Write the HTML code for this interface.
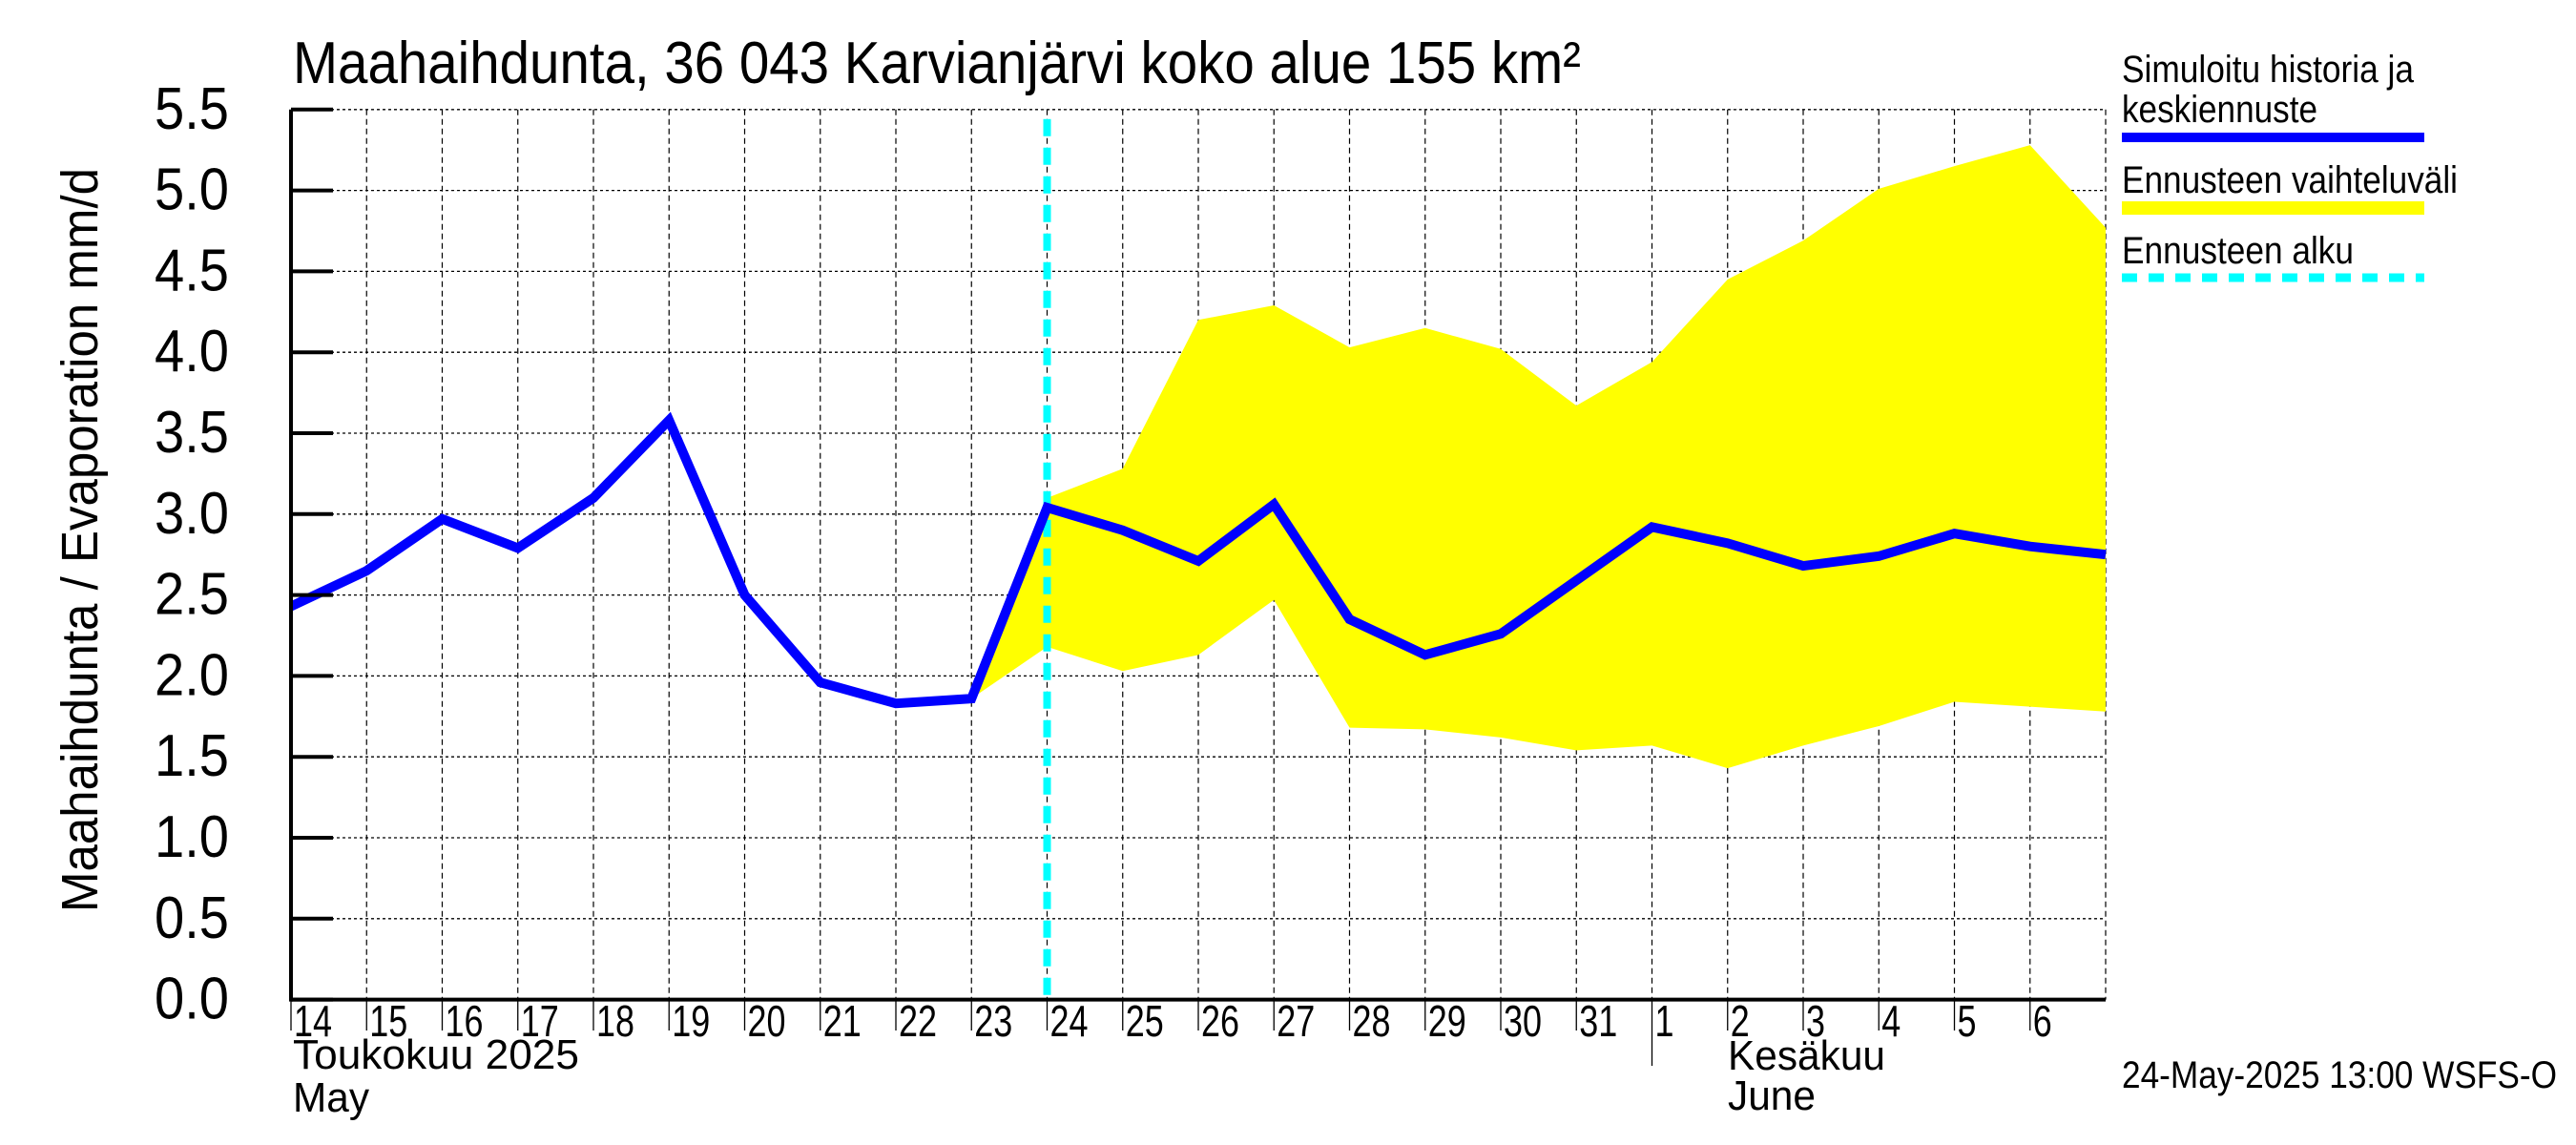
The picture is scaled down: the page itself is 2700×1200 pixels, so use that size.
<!DOCTYPE html>
<html><head><meta charset="utf-8"><style>
html,body{margin:0;padding:0;background:#fff;}
svg{display:block;font-family:"Liberation Sans",sans-serif;}
</style></head><body>
<svg id="chart" width="2700" height="1200" viewBox="0 0 2700 1200" xmlns="http://www.w3.org/2000/svg">
<text x="307" y="87" font-size="62" textLength="1350" lengthAdjust="spacingAndGlyphs">Maahaihdunta, 36 043 Karvianjärvi koko alue 155 km²</text>
<text transform="translate(102,566) rotate(-90)" text-anchor="middle" font-size="54" textLength="780" lengthAdjust="spacingAndGlyphs">Maahaihdunta / Evaporation   mm/d</text>
<g id="grid"></g>
<g id="band"></g>
<g id="series"></g>
<g id="axes"></g>
<text x="307" y="1120" font-size="44" textLength="300" lengthAdjust="spacingAndGlyphs">Toukokuu  2025</text>
<text x="307" y="1165" font-size="44" textLength="80" lengthAdjust="spacingAndGlyphs">May</text>
<text x="1811" y="1121" font-size="44" textLength="165" lengthAdjust="spacingAndGlyphs">Kesäkuu</text>
<text x="1811" y="1163" font-size="44" textLength="92" lengthAdjust="spacingAndGlyphs">June</text>
<g font-size="40">
<text x="2224" y="86" textLength="306" lengthAdjust="spacingAndGlyphs">Simuloitu historia ja</text>
<text x="2224" y="128" textLength="205" lengthAdjust="spacingAndGlyphs">keskiennuste</text>
<rect x="2224" y="139" width="317" height="10" fill="#0000ff"/>
<text x="2224" y="202" textLength="352" lengthAdjust="spacingAndGlyphs">Ennusteen vaihteluväli</text>
<rect x="2224" y="211" width="317" height="14" fill="#ffff00"/>
<text x="2224" y="276" textLength="243" lengthAdjust="spacingAndGlyphs">Ennusteen alku</text>
<line x1="2224" y1="291" x2="2541" y2="291" stroke="#00ffff" stroke-width="9" stroke-dasharray="16,12"/>
</g>
<text x="2224" y="1140" font-size="40" textLength="456" lengthAdjust="spacingAndGlyphs">24-May-2025 13:00 WSFS-O</text>
</svg>
<script>
const dayLabels = ["14","15","16","17","18","19","20","21","22","23","24","25","26","27","28","29","30","31","1","2","3","4","5","6"];
const yTicks = [0,0.5,1,1.5,2,2.5,3,3.5,4,4.5,5,5.5];
const yTickLabels = ["0.0","0.5","1.0","1.5","2.0","2.5","3.0","3.5","4.0","4.5","5.0","5.5"];
const simValues = [2.43,2.65,2.97,2.79,3.1,3.58,2.5,1.96,1.83,1.86,3.04,2.9,2.71,3.06,2.35,2.13,2.26,2.59,2.92,2.82,2.68,2.74,2.88,2.80,2.75];
const bandStart = 9;
const bandUpper = [1.86,3.1,3.28,4.2,4.29,4.03,4.15,4.02,3.67,3.94,4.45,4.69,5.01,5.15,5.28,4.77];
const bandLower = [1.86,2.18,2.03,2.13,2.47,1.68,1.67,1.62,1.54,1.57,1.43,1.57,1.69,1.84,1.81,1.78];
const forecastStartDay = 10;
const monthBreakDay = 18;

const NS="http://www.w3.org/2000/svg";
const X0=305, DX=79.25, NDAYS=24, Y0=1047.6, YS=169.6;
const xs=i=>X0+i*DX, ys=v=>Y0-v*YS;
function mk(tag,attrs,parent){const e=document.createElementNS(NS,tag);for(const k in attrs)e.setAttribute(k,attrs[k]);parent.appendChild(e);return e;}
const grid=document.getElementById('grid'),band=document.getElementById('band'),series=document.getElementById('series'),axes=document.getElementById('axes');
const XR=xs(NDAYS), YT=ys(5.5);
yTicks.forEach((v,i)=>{
  if(v>0){const l=mk('line',{x1:X0,x2:XR,y1:ys(v),y2:ys(v),stroke:'#000','stroke-width':1.3,'stroke-dasharray':'3,3'},grid);
  
  }
  const t=mk('line',{x1:X0,x2:X0+44,y1:ys(v),y2:ys(v),stroke:'#000','stroke-width':4},axes);
  
  
  const tx=mk('text',{x:240,y:ys(v)+20,'font-size':62,'text-anchor':'end',textLength:78,lengthAdjust:'spacingAndGlyphs'},axes);
  
  
  tx.textContent=yTickLabels[i];
});
for(let i=1;i<=NDAYS;i++){
  const l=mk('line',{x1:xs(i),x2:xs(i),y1:YT,y2:Y0,stroke:'#000','stroke-width':1.2,'stroke-dasharray':'6,4'},grid);
  
  
}
dayLabels.forEach((d,i)=>{
  const t=mk('line',{x1:xs(i),x2:xs(i),y1:Y0,y2:i===monthBreakDay?1117:1080,stroke:'#000','stroke-width':1.3},axes);
  
  
  const tx=mk('text',{x:xs(i)+3,y:1086,'font-size':46,textLength:d.length*20,lengthAdjust:'spacingAndGlyphs'},axes);
  
  
  tx.textContent=d;
});
let pts=[];
bandUpper.forEach((v,i)=>pts.push(xs(bandStart+i)+','+ys(v)));
for(let i=bandLower.length-1;i>=0;i--)pts.push(xs(bandStart+i)+','+ys(bandLower[i]));
const poly=mk('polygon',{points:pts.join(' '),fill:'#ffff00'},band);


const fl=mk('line',{x1:xs(forecastStartDay),x2:xs(forecastStartDay),y1:YT+10,y2:Y0,stroke:'#00ffff','stroke-width':8,'stroke-dasharray':'18,12'},series);


const sl=mk('polyline',{points:simValues.map((v,i)=>xs(i)+','+ys(v)).join(' '),fill:'none',stroke:'#0000ff','stroke-width':10,'stroke-linejoin':'miter'},series);


const ax1=mk('line',{x1:X0,x2:X0,y1:YT,y2:Y0+2,stroke:'#000','stroke-width':4},axes);


const ax2=mk('line',{x1:X0,x2:XR,y1:Y0,y2:Y0,stroke:'#000','stroke-width':4},axes);


</script>
</body></html>
